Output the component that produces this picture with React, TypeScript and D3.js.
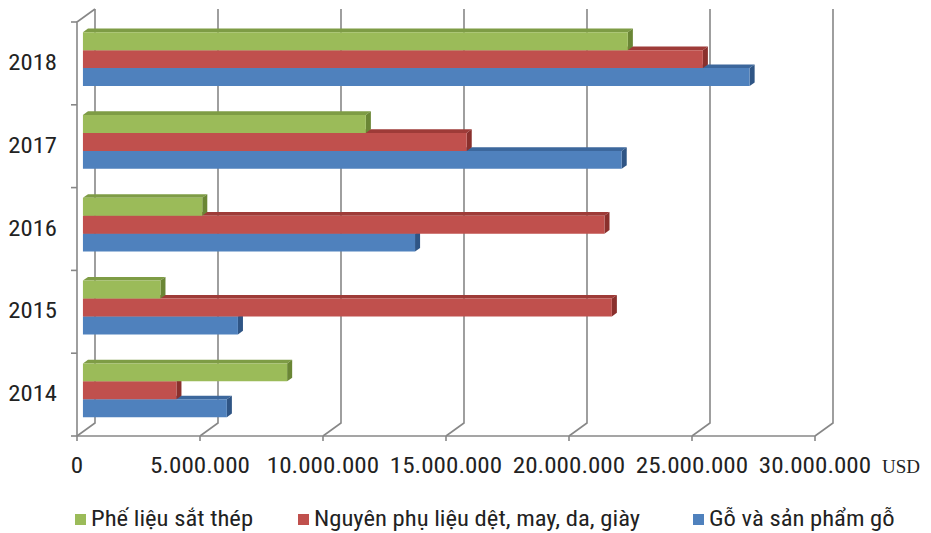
import React, { useEffect, useRef } from 'react';
import * as d3 from 'd3';

const years = ['2018', '2017', '2016', '2015', '2014'];
const seriesNames = ['Phế liệu sắt thép', 'Nguyên phụ liệu dệt, may, da, giày', 'Gỗ và sản phẩm gỗ'];
const scrapSteel = [22.15e6, 11.5e6, 4.85e6, 3.15e6, 8.3e6];
const textileInputs = [25.2e6, 15.6e6, 21.2e6, 21.5e6, 3.8e6];
const woodProducts = [27.1e6, 21.9e6, 13.5e6, 6.3e6, 5.85e6];
const xTicks = [0, 5e6, 10e6, 15e6, 20e6, 25e6, 30e6];
const tickLabels = ['0', '5.000.000', '10.000.000', '15.000.000', '20.000.000', '25.000.000', '30.000.000'];

const front = ['#9BBB59', '#C0504D', '#4F81BD'];
const topCol = ['#7E9C45', '#9E3B38', '#3C679C'];
const sideCol = ['#6A8635', '#8A302D', '#2F5585'];

const FONT = "'Liberation Sans Narrow', 'Roboto Condensed', 'Liberation Sans', sans-serif";

// widen the narrow font a bit so it reads like the original's Calibri
function stretch(sel: d3.Selection<SVGTextElement, unknown, null, undefined>, k: number) {
  const node = sel.node();
  if (!node) return;
  const w = node.getComputedTextLength();
  sel.attr('textLength', w * k).attr('lengthAdjust', 'spacingAndGlyphs');
}

const App: React.FC = () => {
  const svgRef = useRef<SVGSVGElement | null>(null);
  const width = 931;
  const height = 533;

  useEffect(() => {
    if (!svgRef.current) return;
    const svg = d3.select(svgRef.current);
    svg.selectAll('*').remove();

    // depth of the 3D box (full depth shift)
    const DX = 18;
    const DY = -13;
    const top = 22;
    const bottom = 436;

    const x = d3.scaleLinear().domain([0, 30e6]).range([77, 815]);
    const y = d3.scaleBand().domain(years).range([top, bottom]).paddingInner(0.35).paddingOuter(0.175);
    const sub = d3.scaleBand().domain(['0', '1', '2']).range([0, y.bandwidth()]);

    const P = (px: number, py: number, z: number) => `${px + z * DX},${py + z * DY}`;
    const grid = '#878787';

    // back wall gridlines + floor diagonals
    const g = svg.append('g');
    xTicks.forEach((t) => {
      const xv = x(t);
      g.append('polyline')
        .attr('points', [P(xv, top, 1), P(xv, bottom, 1), P(xv, bottom, 0)].join(' '))
        .attr('fill', 'none')
        .attr('stroke', grid)
        .attr('stroke-width', 1.6);
    });
    // left wall
    g.append('polyline')
      .attr('points', [P(x(0), bottom, 0), P(x(0), top, 0), P(x(0), top, 1)].join(' '))
      .attr('fill', 'none')
      .attr('stroke', grid)
      .attr('stroke-width', 1.6);
    // floor front line
    g.append('line')
      .attr('x1', x(0)).attr('x2', x(30e6))
      .attr('y1', bottom).attr('y2', bottom)
      .attr('stroke', grid).attr('stroke-width', 1.6);
    // x ticks
    xTicks.forEach((t) => {
      g.append('line')
        .attr('x1', x(t)).attr('x2', x(t))
        .attr('y1', bottom).attr('y2', bottom + 5)
        .attr('stroke', grid).attr('stroke-width', 1.6);
    });
    // y ticks at band boundaries
    const step = y.step();
    for (let i = 0; i <= years.length; i++) {
      const yy = top + i * step;
      g.append('line')
        .attr('x1', x(0) - 6).attr('x2', x(0))
        .attr('y1', yy).attr('y2', yy)
        .attr('stroke', grid).attr('stroke-width', 1.6);
    }

    // bars
    const z1 = 0.33;
    const z2 = 0.61;
    const series = [scrapSteel, textileInputs, woodProducts];
    const bars = svg.append('g');
    years.forEach((yr, i) => {
      // draw bottom series first so upper bars overlap their top faces
      [2, 1, 0].forEach((s) => {
        const v = series[s][i];
        const y0 = (y(yr) as number) + (sub(String(s)) as number);
        const y1 = y0 + sub.bandwidth();
        const xa = x(0);
        const xb = x(v);
        bars.append('polygon')
          .attr('points', [P(xa, y0, z1), P(xb, y0, z1), P(xb, y0, z2), P(xa, y0, z2)].join(' '))
          .attr('fill', topCol[s]);
        bars.append('polygon')
          .attr('points', [P(xb, y0, z1), P(xb, y0, z2), P(xb, y1, z2), P(xb, y1, z1)].join(' '))
          .attr('fill', sideCol[s]);
        bars.append('polygon')
          .attr('points', [P(xa, y0, z1), P(xb, y0, z1), P(xb, y1, z1), P(xa, y1, z1)].join(' '))
          .attr('fill', front[s]);
      });
    });

    // year labels
    years.forEach((yr) => {
      const t = svg.append('text')
        .attr('x', 57)
        .attr('y', (y(yr) as number) + y.bandwidth() / 2 - 1)
        .attr('text-anchor', 'end')
        .attr('dominant-baseline', 'central')
        .attr('font-family', FONT)
        .attr('font-size', 22)
        .attr('fill', '#222')
        .text(yr);
      stretch(t, 1.12);
    });

    // x tick labels
    xTicks.forEach((tk, i) => {
      const t = svg.append('text')
        .attr('x', x(tk))
        .attr('y', 473)
        .attr('text-anchor', 'middle')
        .attr('font-family', FONT)
        .attr('font-size', 22)
        .attr('fill', '#222')
        .text(tickLabels[i]);
      stretch(t, 1.14);
    });
    svg.append('text')
      .attr('x', 882)
      .attr('y', 473)
      .attr('font-family', "'Liberation Serif', 'DejaVu Serif', serif")
      .attr('font-size', 19)
      .attr('fill', '#222')
      .text('USD');

    // legend
    const legendX = [75, 298, 693];
    seriesNames.forEach((name, s) => {
      svg.append('rect')
        .attr('x', legendX[s]).attr('y', 514)
        .attr('width', 11).attr('height', 11)
        .attr('fill', front[s]);
      const t = svg.append('text')
        .attr('x', legendX[s] + 16)
        .attr('y', 526)
        .attr('font-family', FONT)
        .attr('font-size', 22)
        .attr('fill', '#222')
        .text(name);
      stretch(t, 1.12);
    });
  }, []);

  return (
    <svg
      ref={svgRef}
      width={width}
      height={height}
      style={{ position: 'absolute', left: 0, top: 0, background: '#fff' }}
    ></svg>
  );
};

export default App;
